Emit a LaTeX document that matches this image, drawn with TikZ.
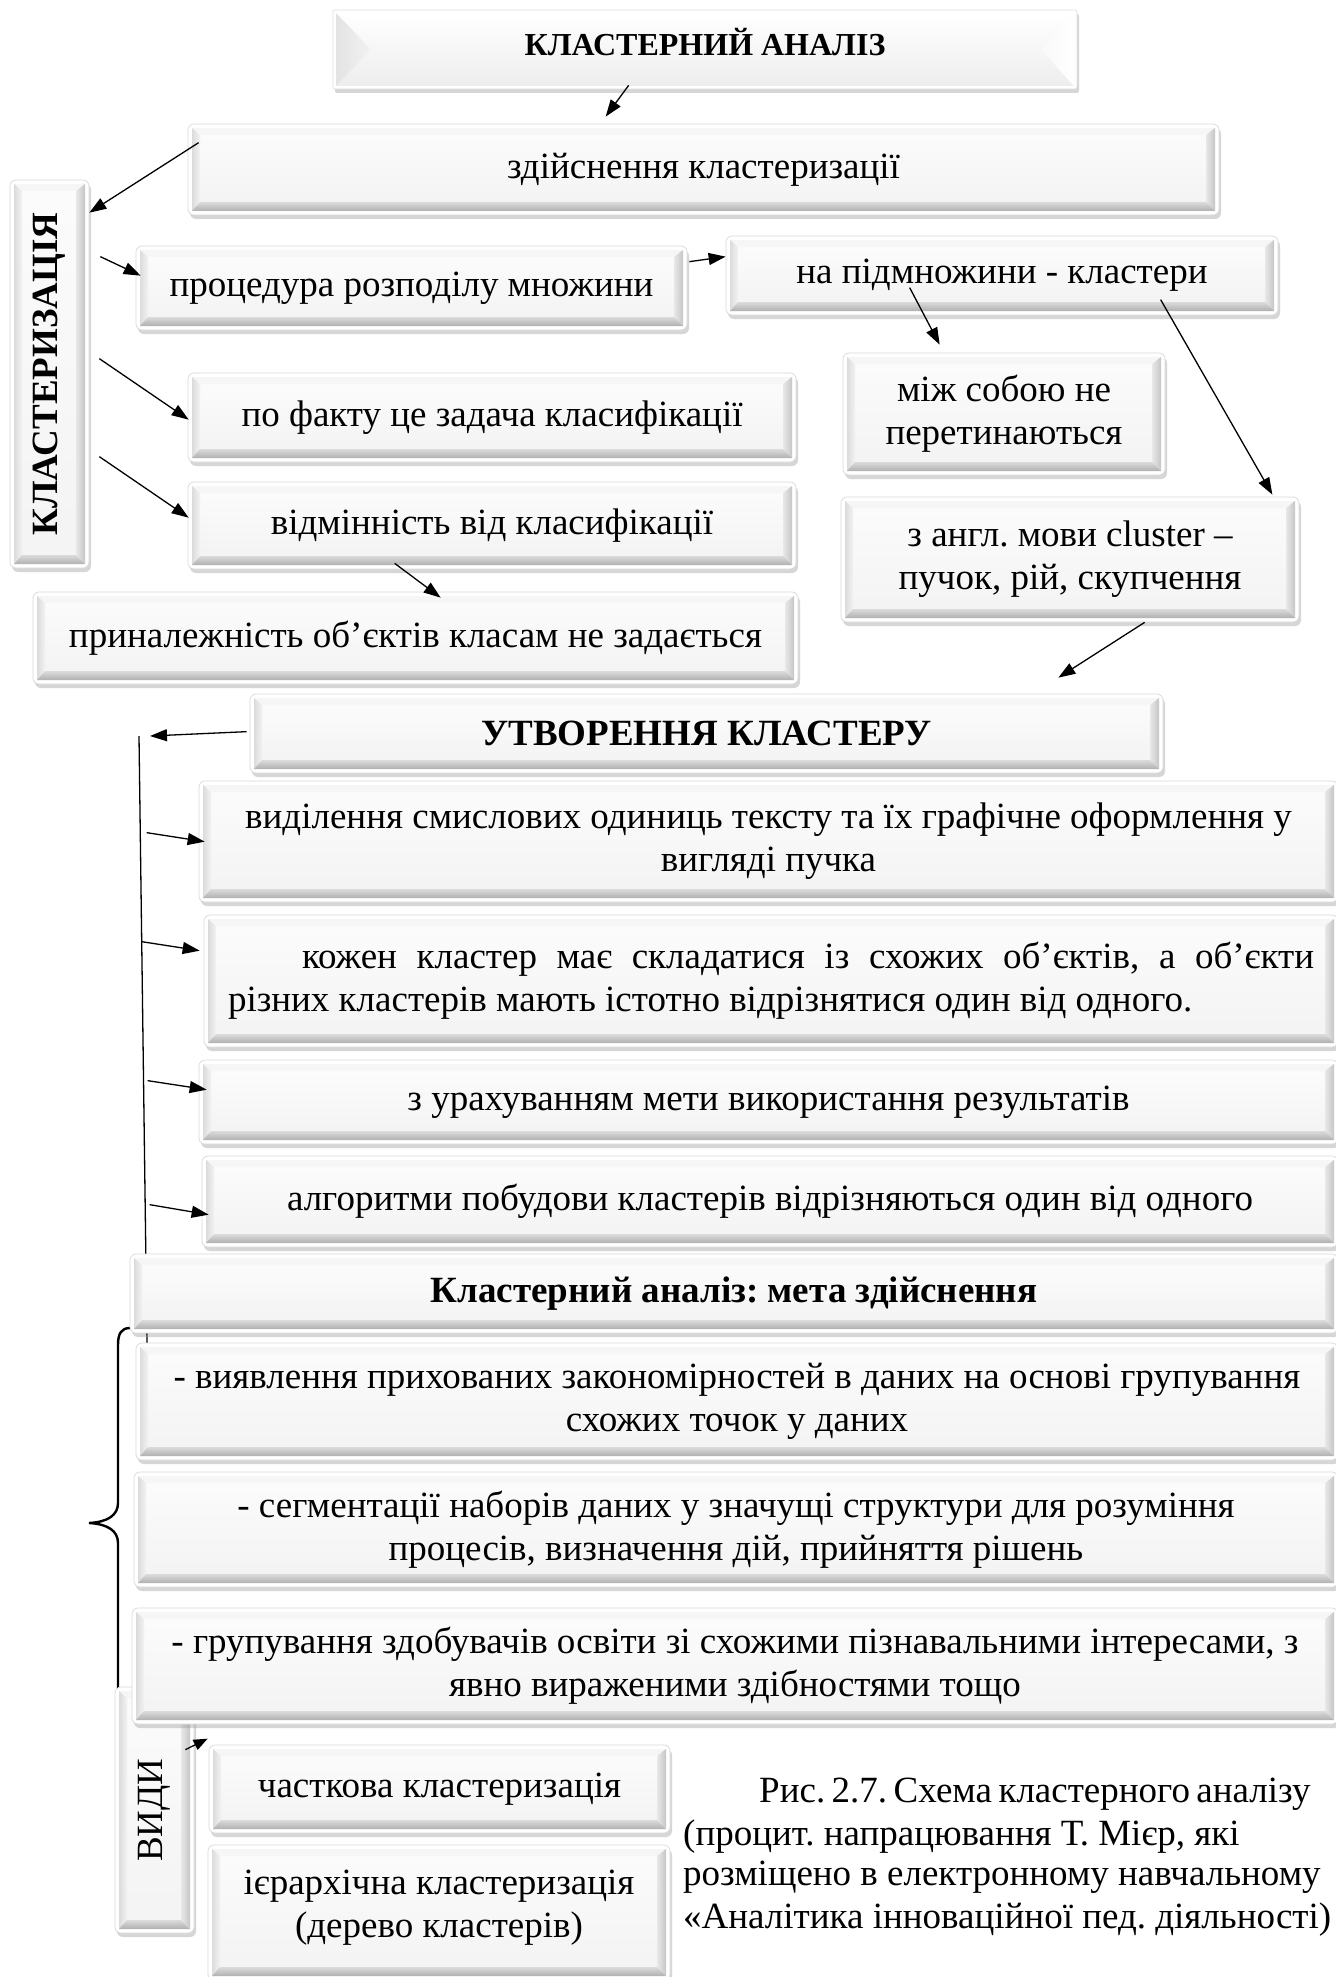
\documentclass[tikz,border=0pt]{standalone}
\usepackage{fontspec}
\setmainfont{Liberation Serif}
\usepackage{graphicx}
\usetikzlibrary{arrows.meta,shadows,calc}
\frenchspacing

\newcommand\bevdraw[1]{%
 \coordinate (oNW) at ([shift={(4pt,-4pt)}]path picture bounding box.north west);
 \coordinate (oNE) at ([shift={(-4pt,-4pt)}]path picture bounding box.north east);
 \coordinate (oSW) at ([shift={(4pt,4pt)}]path picture bounding box.south west);
 \coordinate (oSE) at ([shift={(-4pt,4pt)}]path picture bounding box.south east);
 \coordinate (iNW) at ([shift={(#1,-11pt)}]path picture bounding box.north west);
 \coordinate (iNE) at ([shift={(-13pt,-11pt)}]path picture bounding box.north east);
 \coordinate (iSW) at ([shift={(#1,13pt)}]path picture bounding box.south west);
 \coordinate (iSE) at ([shift={(-13pt,13pt)}]path picture bounding box.south east);
 \shade[sharp corners, top color=gray!3, bottom color=gray!9] (iNW) rectangle (iSE);
 \fill[sharp corners, gray!7] (oNW) -- (oNE) -- (iNE) -- (iNW) -- cycle;
 \shade[sharp corners, left color=gray!28, right color=gray!10] (oNW) -- (iNW) -- (iSW) -- (oSW) -- cycle;
 \shade[sharp corners, left color=gray!18, right color=gray!45] (oNE) -- (oSE) -- (iSE) -- (iNE) -- cycle;
 \shade[sharp corners, top color=gray!28, bottom color=gray!62] (oSW) -- (iSW) -- (iSE) -- (oSE) -- cycle;
}
\newcommand\titledraw{%
 \coordinate (oNW) at ([shift={(3pt,-3pt)}]path picture bounding box.north west);
 \coordinate (oNE) at ([shift={(-3pt,-3pt)}]path picture bounding box.north east);
 \coordinate (oSW) at ([shift={(3pt,3pt)}]path picture bounding box.south west);
 \coordinate (oSE) at ([shift={(-3pt,3pt)}]path picture bounding box.south east);
 \coordinate (aL) at ([xshift=38pt]path picture bounding box.west);
 \coordinate (aR) at ([xshift=-36pt]path picture bounding box.east);
 \shade[sharp corners, top color=white, bottom color=gray!14] (oNW) rectangle (oSE);
 \shade[sharp corners, left color=gray!22, right color=gray!10] (oNW) -- (aL) -- (oSW) -- cycle;
 \shade[sharp corners, left color=gray!5, right color=white] (oNE) -- (aR) -- (oSE) -- cycle;
}

\tikzset{
 bx/.style={rectangle, rounded corners=6pt, draw=gray!30, line width=0.7pt, fill=white,
   drop shadow={shadow xshift=2pt, shadow yshift=-4pt, fill=black!40, opacity=.4},
   inner sep=0pt, align=center, path picture={\bevdraw{12pt}}},
 ttl/.style={rectangle, rounded corners=2pt, draw=gray!25, line width=0.7pt, fill=white,
   drop shadow={shadow xshift=2pt, shadow yshift=-4pt, fill=black!40, opacity=.4},
   inner sep=0pt, align=center, path picture={\titledraw}},
 arr/.style={-{Triangle[length=17pt,width=12pt]}, line width=1.3pt},
 bodyfont/.style={font=\fontsize{37}{43}\selectfont},
 capline/.style={anchor=base west, inner sep=0pt},
}

% [opts]{x1}{y1}{x2}{y2}{name}{text}
\newcommand\bbox[7][]{\node[bx,minimum width={#4-#2},minimum height={#5-#3},#1] (#6) at ({(#2+#4)/2},{(#3+#5)/2}) {#7};}

\begin{document}
\begin{tikzpicture}[x=1pt,y=-1pt,bodyfont]
\useasboundingbox (0,0) rectangle (1335,1977);
\fill[white] (0,0) rectangle (1335,1977);

% vertical line and brace (behind boxes)
\coordinate (vtop) at (139,736);
\coordinate (vbot) at (147,1343);
\draw[line width=1.3pt] (vtop) -- (vbot);
\draw[line width=2.4pt] (130,1328) .. controls (121,1328) and (118,1334) .. (118,1345)
  -- (118,1503) .. controls (118,1515) and (108,1522) .. (89,1523)
  .. controls (108,1524) and (118,1531) .. (118,1543) -- (118,1700);

% title
\node[ttl,minimum width=744,minimum height=79,font=\fontsize{32}{37}\selectfont\bfseries,text depth=15pt] (T) at (705,49.5) {КЛАСТЕРНИЙ АНАЛІЗ};

\bbox{188}{124}{1219}{215}{Z}{здійснення кластеризації}
\bbox{10}{180}{89}{568}{K}{\rotatebox{90}{\bfseries КЛАСТЕРИЗАЦІЯ}}
\bbox{136}{246}{687}{330}{P}{процедура розподілу множини}
\bbox{726}{236}{1278}{315}{N}{на підмножини - кластери}
\bbox{188}{373}{796}{462}{F}{по факту це задача класифікації}
\bbox{188}{482}{796}{569}{V}{відмінність від класифікації}
\bbox{33}{592}{798}{684}{PR}{приналежність об’єктів класам не задається}
\bbox{843}{353}{1165}{475}{M}{між собою не\\перетинаються}
\bbox{841}{497}{1299}{622}{E}{з англ. мови cluster –\\пучок, рій, скупчення}

\bbox{250}{694}{1163}{773}{U}{\bfseries УТВОРЕННЯ КЛАСТЕРУ}
\bbox{199}{781}{1338}{902}{B1}{виділення смислових одиниць тексту та їх графічне оформлення у\\вигляді пучка}
\bbox[align=justify,text width=1086pt]{204}{915}{1338}{1047}{B2}{\hspace*{74pt}кожен кластер має складатися із схожих об’єктів, а об’єкти\linebreak різних кластерів мають істотно відрізнятися один від одного.}
\bbox{199}{1060}{1338}{1144}{B3}{з урахуванням мети використання результатів}
\bbox{202}{1156}{1338}{1247}{B4}{алгоритми побудови кластерів відрізняються один від одного}

\bbox{130}{1254}{1338}{1333}{C}{\bfseries Кластерний аналіз: мета здійснення}
\bbox{136}{1343}{1338}{1460}{G1}{- виявлення прихованих закономірностей в даних на основі групування\\схожих точок у даних}
\bbox{134}{1472}{1338}{1587}{G2}{- сегментації наборів даних у значущі структури для розуміння\\процесів, визначення дій, прийняття рішень}
\bbox{115}{1687}{194}{1933}{VY}{\rotatebox{90}{ВИДИ}}
\bbox{132}{1608}{1338}{1724}{G3}{- групування здобувачів освіти зі схожими пізнавальними інтересами, з\\явно вираженими здібностями тощо}
\bbox{209}{1745}{670}{1833}{W1}{часткова кластеризація}
\bbox[text depth=17pt]{208}{1845}{670}{1980}{W2}{ієрархічна кластеризація\\(дерево кластерів)}

% caption
\node[capline] (cap1) at (759,1802) {\spaceskip=6.5pt plus 1pt Рис. 2.7. Схема кластерного аналізу};
\node[capline] (cap2) at (683,1845) {(процит. напрацювання Т. Мієр, які};
\node[capline] (cap3) at (683,1885) {розміщено в електронному навчальному};
\node[capline] (cap4) at (683,1928) {«Аналітика інноваційної пед. діяльності)};

% arrows
\draw[arr] ([shift={(296,-4)}]T.south west) -- ([shift={(418,-7)}]Z.north west);
\draw[arr] ([shift={(11,19)}]Z.north west) -- ([shift={(0,33)}]K.north east);
\draw[arr] ([shift={(11,77)}]K.north east) -- ([shift={(5,30)}]P.north west);
\draw[arr] ([shift={(2,16)}]P.north east) -- ([shift={(0,21)}]N.north west);
\draw[arr] ([shift={(184,52)}]N.north west) -- ([shift={(97,-8)}]M.north west);
\draw[arr] ([shift={(435,64)}]N.north west) -- ([shift={(-27,-2)}]E.north east);
\draw[arr] ([shift={(10,179)}]K.north east) -- ([shift={(1,47)}]F.north west);
\draw[arr] ([shift={(10,277)}]K.north east) -- ([shift={(1,36)}]V.north west);
\draw[arr] ([shift={(207,-6)}]V.south west) -- ([shift={(408,6)}]PR.north west);
\draw[arr] ([shift={(304,0)}]E.south west) -- ([shift={(-105,-16)}]U.north east);
\draw[arr] ([shift={(-3,38)}]U.north west) -- ([shift={(11,0)}]vtop);
\draw[arr] ([shift={(-52,52)}]B1.north west) -- ([shift={(6,61)}]B1.north west);
\draw[arr] ([shift={(-62,27)}]B2.north west) -- ([shift={(-4,36)}]B2.north west);
\draw[arr] ([shift={(-51,21)}]B3.north west) -- ([shift={(8,30)}]B3.north west);
\draw[arr] ([shift={(-52,49)}]B4.north west) -- ([shift={(7,59)}]B4.north west);
\draw[arr,-{Triangle[length=14pt,width=11pt]}] ([shift={(-9,63)}]VY.north east) -- ([shift={(-1,-6)}]W1.north west);
\end{tikzpicture}
\end{document}
